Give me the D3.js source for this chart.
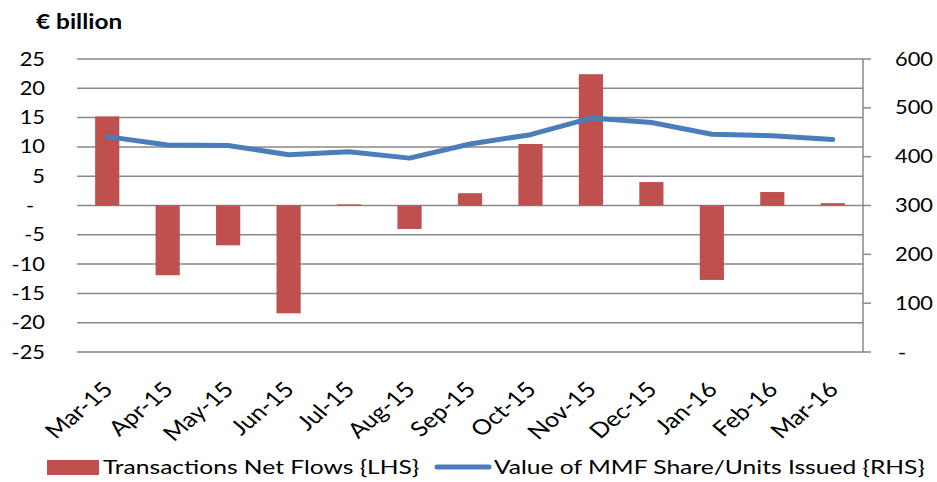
<!DOCTYPE html>
<html>
<head>
<meta charset="utf-8">
<script src="https://cdn.jsdelivr.net/npm/d3@7"></script>
<style>
  body { margin: 0; background: #fff; }
  svg text { font-family: Lato, "Open Sans", sans-serif; fill: #000; }
</style>
</head>
<body>
<div id="chart"></div>
<script>
const months = ['Mar-15', 'Apr-15', 'May-15', 'Jun-15', 'Jul-15', 'Aug-15', 'Sep-15',
                'Oct-15', 'Nov-15', 'Dec-15', 'Jan-16', 'Feb-16', 'Mar-16'];
const netFlows = [15.2, -11.9, -6.8, -18.4, 0.2, -4.0, 2.1, 10.5, 22.4, 4.0, -12.7, 2.3, 0.4];
const mmfValue = [441, 424, 423, 404, 410, 397, 426, 445, 479, 470, 446, 443, 435];
const leftTicks = [-25, -20, -15, -10, -5, 0, 5, 10, 15, 20, 25];
const rightTicks = [0, 100, 200, 300, 400, 500, 600];
const legendLabels = ['Transactions Net Flows {LHS}', 'Value of MMF Share/Units Issued {RHS}'];

const width = 937, height = 482;
const plot = { left: 77, right: 863, top: 59, bottom: 352 };

const svg = d3.select('#chart').append('svg')
    .attr('width', width)
    .attr('height', height);

const x = d3.scaleBand()
    .domain(months)
    .range([plot.left, plot.right])
    .paddingInner(0.6)
    .paddingOuter(0.3);

const yL = d3.scaleLinear().domain([-25, 25]).range([plot.bottom, plot.top]);
const yR = d3.scaleLinear().domain([0, 600]).range([plot.bottom, plot.top]);

// the source picture is stretched a bit sideways, so text gets a horizontal scale
function label(g, txt, tx, ty, anchor, size, sx, extra) {
    return g.append('text')
        .attr('transform', 'translate(' + tx + ',' + ty + ') scale(' + sx + ',1)' + (extra || ''))
        .attr('text-anchor', anchor)
        .style('font-size', size + 'px')
        .text(txt);
}

// title
label(svg, '€ billion', 36, 29, 'start', 20, 1.22).style('font-weight', 'bold');

// gridlines + left labels
const grid = svg.append('g');
leftTicks.forEach(function(t) {
    grid.append('line')
        .attr('x1', plot.left).attr('x2', plot.right)
        .attr('y1', yL(t)).attr('y2', yL(t))
        .attr('stroke', '#898989').attr('stroke-width', 1.5);
    if (t === 0) label(grid, '-', 30, yL(t) + 6.5, 'middle', 19, 1.15);
    else label(grid, t, 45, yL(t) + 6.5, 'end', 19, 1.15);
});

// right axis
const rAxis = svg.append('g');
rAxis.append('line')
    .attr('x1', plot.right).attr('x2', plot.right)
    .attr('y1', plot.top).attr('y2', plot.bottom)
    .attr('stroke', '#898989').attr('stroke-width', 1.5);
rightTicks.forEach(function(t) {
    rAxis.append('line')
        .attr('x1', plot.right).attr('x2', plot.right + 8)
        .attr('y1', yR(t)).attr('y2', yR(t))
        .attr('stroke', '#898989').attr('stroke-width', 1.5);
    if (t === 0) label(rAxis, '-', 898, yR(t) + 6.5, 'start', 19, 1.15);
    else label(rAxis, t, 895, yR(t) + 6.5, 'start', 19, 1.15);
});

// bars
svg.append('g').selectAll('rect')
    .data(netFlows)
    .enter()
    .append('rect')
    .attr('x', function(d, i) { return x(months[i]); })
    .attr('width', x.bandwidth())
    .attr('y', function(d) { return yL(Math.max(0, d)); })
    .attr('height', function(d) { return Math.abs(yL(d) - yL(0)); })
    .attr('fill', '#c0504d');

// line
const line = d3.line()
    .x(function(d, i) { return x(months[i]) + x.bandwidth() / 2; })
    .y(function(d) { return yR(d); });

svg.append('path')
    .datum(mmfValue)
    .attr('d', line)
    .attr('fill', 'none')
    .attr('stroke', '#4a7ebb')
    .attr('stroke-width', 5)
    .attr('stroke-linejoin', 'round')
    .attr('stroke-linecap', 'round');

// x labels
const xl = svg.append('g');
months.forEach(function(m) {
    label(xl, m, x(m) + x.bandwidth() / 2 + 7, 391, 'end', 21, 1.2, ' rotate(-45)');
});

// legend
const leg = svg.append('g');
leg.append('rect')
    .attr('x', 47).attr('y', 460).attr('width', 52).attr('height', 15)
    .attr('fill', '#c0504d');
label(leg, legendLabels[0], 103, 474, 'start', 20, 1.23);
leg.append('line')
    .attr('x1', 437).attr('x2', 489).attr('y1', 467).attr('y2', 467)
    .attr('stroke', '#4a7ebb').attr('stroke-width', 5)
    .attr('stroke-linecap', 'round');
label(leg, legendLabels[1], 494, 474, 'start', 20, 1.23);
</script>
</body>
</html>
